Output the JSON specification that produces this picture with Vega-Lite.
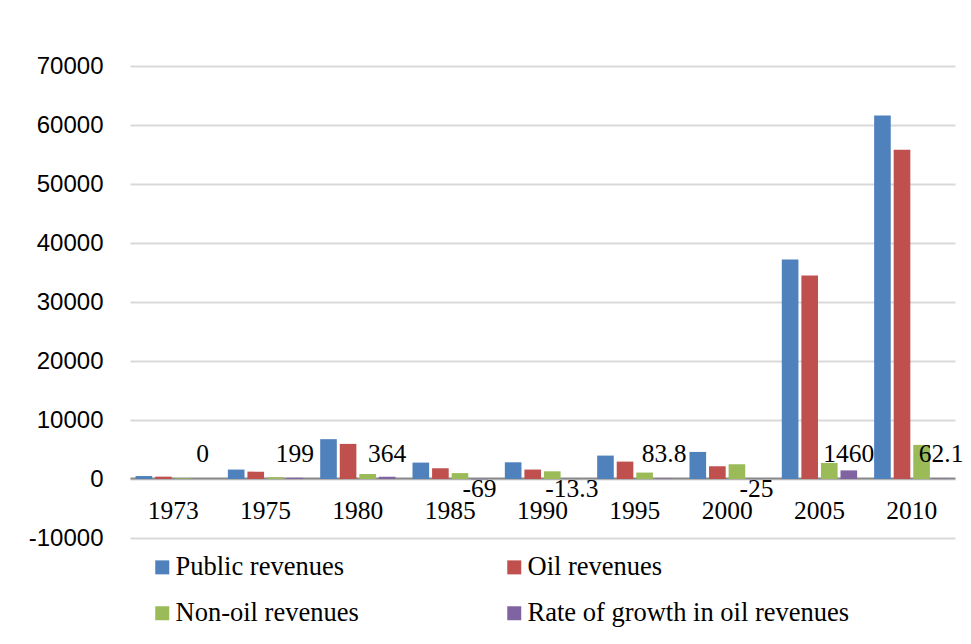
{
  "$schema": "https://vega.github.io/schema/vega-lite/v6.json",
  "width": 825,
  "height": 472,
  "autosize": {"type": "none"},
  "padding": {"left": 130, "top": 66, "right": 16, "bottom": 106},
  "background": "white",
  "data": {
    "values": [
      {"year": "1973", "series": "Public revenues", "value": 500},
      {"year": "1973", "series": "Oil revenues", "value": 400},
      {"year": "1973", "series": "Non-oil revenues", "value": 100},
      {"year": "1973", "series": "Rate of growth in oil revenues", "value": 0, "label": "0"},
      {"year": "1975", "series": "Public revenues", "value": 1600},
      {"year": "1975", "series": "Oil revenues", "value": 1250},
      {"year": "1975", "series": "Non-oil revenues", "value": 300},
      {"year": "1975", "series": "Rate of growth in oil revenues", "value": 199, "label": "199"},
      {"year": "1980", "series": "Public revenues", "value": 6750},
      {"year": "1980", "series": "Oil revenues", "value": 5950},
      {"year": "1980", "series": "Non-oil revenues", "value": 850},
      {"year": "1980", "series": "Rate of growth in oil revenues", "value": 364, "label": "364"},
      {"year": "1985", "series": "Public revenues", "value": 2780},
      {"year": "1985", "series": "Oil revenues", "value": 1820},
      {"year": "1985", "series": "Non-oil revenues", "value": 1000},
      {"year": "1985", "series": "Rate of growth in oil revenues", "value": -69, "label": "-69"},
      {"year": "1990", "series": "Public revenues", "value": 2830},
      {"year": "1990", "series": "Oil revenues", "value": 1600},
      {"year": "1990", "series": "Non-oil revenues", "value": 1300},
      {"year": "1990", "series": "Rate of growth in oil revenues", "value": -13.3, "label": "-13.3"},
      {"year": "1995", "series": "Public revenues", "value": 3970},
      {"year": "1995", "series": "Oil revenues", "value": 2950},
      {"year": "1995", "series": "Non-oil revenues", "value": 1090},
      {"year": "1995", "series": "Rate of growth in oil revenues", "value": 83.8, "label": "83.8"},
      {"year": "2000", "series": "Public revenues", "value": 4590},
      {"year": "2000", "series": "Oil revenues", "value": 2160},
      {"year": "2000", "series": "Non-oil revenues", "value": 2500},
      {"year": "2000", "series": "Rate of growth in oil revenues", "value": -25, "label": "-25"},
      {"year": "2005", "series": "Public revenues", "value": 37200},
      {"year": "2005", "series": "Oil revenues", "value": 34500},
      {"year": "2005", "series": "Non-oil revenues", "value": 2720},
      {"year": "2005", "series": "Rate of growth in oil revenues", "value": 1460, "label": "1460"},
      {"year": "2010", "series": "Public revenues", "value": 61600},
      {"year": "2010", "series": "Oil revenues", "value": 55800},
      {"year": "2010", "series": "Non-oil revenues", "value": 5780},
      {"year": "2010", "series": "Rate of growth in oil revenues", "value": 62.1, "label": "62.1"}
    ]
  },
  "encoding": {
    "x": {
      "field": "year",
      "type": "nominal",
      "sort": null,
      "scale": {"paddingInner": 0.184, "paddingOuter": 0.06},
      "axis": {
        "title": null,
        "orient": "bottom",
        "offset": -60,
        "labelAngle": 0,
        "ticks": false,
        "domain": true,
        "domainColor": "#898989",
        "domainWidth": 2,
        "labelFont": "Liberation Serif",
        "labelFontSize": 25.5,
        "labelColor": "#000000",
        "labelPadding": 20,
        "grid": false
      }
    },
    "xOffset": {
      "field": "series",
      "type": "nominal",
      "sort": ["Public revenues", "Oil revenues", "Non-oil revenues", "Rate of growth in oil revenues"],
      "scale": {
        "domain": ["Public revenues", "Oil revenues", "Non-oil revenues", "Rate of growth in oil revenues"],
        "paddingInner": 0.15,
        "paddingOuter": 0
      }
    }
  },
  "layer": [
    {
      "mark": {"type": "bar"},
      "encoding": {
        "y": {
          "field": "value",
          "type": "quantitative",
          "scale": {"domain": [-10000, 70000], "nice": false, "zero": true},
          "axis": {
            "title": null,
            "values": [-10000, 0, 10000, 20000, 30000, 40000, 50000, 60000, 70000],
            "labelExpr": "'' + datum.value",
            "domain": false,
            "ticks": false,
            "labelFont": "Liberation Sans",
            "labelFontSize": 24,
            "labelColor": "#000000",
            "labelPadding": 27,
            "grid": true,
            "gridColor": "#d9d9d9",
            "gridWidth": 2
          }
        },
        "color": {
          "field": "series",
          "type": "nominal",
          "sort": ["Public revenues", "Oil revenues", "Non-oil revenues", "Rate of growth in oil revenues"],
          "scale": {
            "domain": ["Public revenues", "Oil revenues", "Non-oil revenues", "Rate of growth in oil revenues"],
            "range": ["#4f81bd", "#c0504d", "#9bbb59", "#8064a2"]
          },
          "legend": {
            "title": null,
            "orient": "none",
            "legendX": 19,
            "legendY": 488,
            "direction": "horizontal",
            "columns": 2,
            "columnPadding": 142,
            "rowPadding": 19,
            "padding": 0,
            "symbolType": "square",
            "symbolSize": 196,
            "symbolStrokeWidth": 0,
            "symbolOpacity": 1,
            "labelFont": "Liberation Serif",
            "labelFontSize": 26.5,
            "labelColor": "#000000",
            "labelOffset": 0,
            "labelLimit": 450
          }
        }
      }
    },
    {
      "transform": [{"filter": "datum.label != null && datum.value >= 0"}],
      "mark": {
        "type": "text",
        "font": "Liberation Serif",
        "fontSize": 25.5,
        "color": "#000000",
        "baseline": "alphabetic",
        "align": "center",
        "dy": -17
      },
      "encoding": {
        "y": {"datum": 0, "type": "quantitative"},
        "text": {"field": "label", "type": "nominal"}
      }
    },
    {
      "transform": [{"filter": "datum.label != null && datum.value < 0"}],
      "mark": {
        "type": "text",
        "font": "Liberation Serif",
        "fontSize": 25.5,
        "color": "#000000",
        "baseline": "alphabetic",
        "align": "center",
        "dy": 18
      },
      "encoding": {
        "y": {"datum": 0, "type": "quantitative"},
        "text": {"field": "label", "type": "nominal"}
      }
    }
  ],
  "config": {
    "view": {"stroke": null}
  }
}
